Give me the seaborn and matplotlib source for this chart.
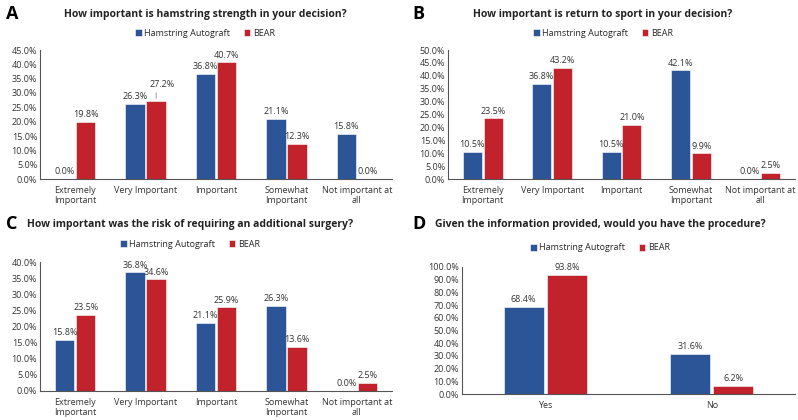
import pandas as pd
import seaborn as sns
import matplotlib.pyplot as plt
from matplotlib.ticker import PercentFormatter, MultipleLocator

# Data
groups = ['Hamstring Autograft', 'BEAR']
colors = ['#2B5597', '#C1222B']

cats_imp = ['Extremely\nImportant', 'Very Important', 'Important',
            'Somewhat\nImportant', 'Not important at\nall']
cats_proc = ['Yes', 'No']

a_ham = [0.0, 26.3, 36.8, 21.1, 15.8]
a_bear = [19.8, 27.2, 40.7, 12.3, 0.0]
b_ham = [10.5, 36.8, 10.5, 42.1, 0.0]
b_bear = [23.5, 43.2, 21.0, 9.9, 2.5]
c_ham = [15.8, 36.8, 21.1, 26.3, 0.0]
c_bear = [23.5, 34.6, 25.9, 13.6, 2.5]
d_ham = [68.4, 31.6]
d_bear = [93.8, 6.2]

titles = ['How important is hamstring strength in your decision?',
          'How important is return to sport in your decision?',
          'How important was the risk of requiring an additional surgery?',
          'Given the information provided, would you have the procedure?']

sns.set_style('white')
plt.rcParams['font.family'] = ['Open Sans', 'DejaVu Sans']

W, H = 798, 420
fig = plt.figure(figsize=(W / 100, H / 100), dpi=100)


def px_axes(left, top, right, bottom):
    return fig.add_axes([left / W, 1 - bottom / H, (right - left) / W, (bottom - top) / H])


def make_df(cats, ham, bear):
    return pd.DataFrame({
        'category': cats * 2,
        'group': [groups[0]] * len(cats) + [groups[1]] * len(cats),
        'value': ham + bear,
    })


panels = [
    # letter, letter xy, title xy, legend y, axes box, data, ymax, ystep, width
    ('A', (6, 14), (205, 15), 33, (40, 50, 392, 179), (cats_imp, a_ham, a_bear), 45, 5, 0.6),
    ('B', (412, 14), (603, 15), 33, (448, 50, 795, 179), (cats_imp, b_ham, b_bear), 50, 5, 0.6),
    ('C', (6, 224), (190, 224), 244, (40, 262, 392, 391), (cats_imp, c_ham, c_bear), 40, 5, 0.6),
    ('D', (412, 224), (600, 224), 248, (462, 267, 795, 394), (cats_proc, d_ham, d_bear), 100, 10, 0.52),
]

for (letter, lxy, txy, leg_y, box, data, ymax, ystep, width), title in zip(panels, titles):
    cats, ham, bear = data
    df = make_df(cats, ham, bear)
    ax = px_axes(*box)
    sns.barplot(data=df, x='category', y='value', hue='group', palette=colors,
                saturation=1, width=width, gap=0.08, ax=ax, legend=True,
                edgecolor='white', linewidth=0.4)
    for k, cont in enumerate(ax.containers):
        labels = ax.bar_label(cont, fmt='%.1f%%', padding=2, fontsize=6.5, color='#333333')
        if k == 1:
            # lift BEAR labels that would collide with the neighbouring label
            for i, lab in enumerate(labels):
                if abs(ham[i] - bear[i]) < 0.03 * ymax:
                    lab.xyann = (4, 9)
                    bar = cont[i]
                    x = bar.get_x() + bar.get_width() / 2
                    ax.annotate('', xy=(x, bear[i]), xytext=(0, 8), textcoords='offset points',
                                arrowprops=dict(arrowstyle='-', color='#888888', lw=0.6))
    ax.set_ylim(0, ymax)
    ax.yaxis.set_major_locator(MultipleLocator(ystep))
    ax.yaxis.set_major_formatter(PercentFormatter(decimals=1))
    ax.set_xlabel('')
    ax.set_ylabel('')
    ax.tick_params(axis='both', labelsize=6.5, colors='#333333', length=0, pad=2)
    ax.tick_params(axis='x', pad=5)
    for s in ['top', 'right']:
        ax.spines[s].set_visible(False)
    for s in ['left', 'bottom']:
        ax.spines[s].set_color('#555555')
        ax.spines[s].set_linewidth(0.8)

    handles, labels = ax.get_legend_handles_labels()
    ax.get_legend().remove()
    fig.legend(handles, labels, loc='center', bbox_to_anchor=(txy[0] / W, 1 - leg_y / H),
               ncol=2, frameon=False, fontsize=6.5, handlelength=0.7, handleheight=0.7,
               handletextpad=0.3, columnspacing=1.5, borderpad=0)

    fig.text(txy[0] / W, 1 - txy[1] / H, title, ha='center', va='center',
             fontsize=7.5, fontweight='bold', color='#222222')
    fig.text(lxy[0] / W, 1 - lxy[1] / H, letter, ha='left', va='center',
             fontsize=13, fontweight='bold', color='black')

fig.savefig('out.png', dpi=100)
